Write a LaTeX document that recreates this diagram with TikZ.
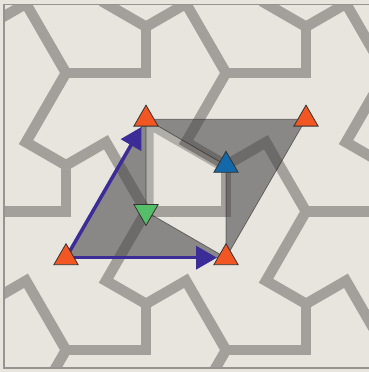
\documentclass[tikz,border=0pt]{standalone}
\usetikzlibrary{arrows.meta,shapes.geometric}
\definecolor{bg}{RGB}{232,229,223}
\definecolor{tileln}{RGB}{163,159,155}
\definecolor{framec}{RGB}{150,148,145}
\definecolor{orng}{RGB}{242,86,34}
\definecolor{blu}{RGB}{18,104,168}
\definecolor{grn}{RGB}{84,190,104}
\definecolor{arrc}{RGB}{60,44,152}
\definecolor{dartc}{RGB}{70,70,70}
\begin{document}
\begin{tikzpicture}[x=1pt,y=-1pt,
  tile/.style={draw=tileln,line width=10.5pt,miter limit=10},
  dart/.style={fill=dartc,fill opacity=0.58,draw=black,draw opacity=0.45,line width=0.7pt},
  mk/.style={regular polygon,regular polygon sides=3,minimum size=28pt,inner sep=0pt,draw=black!80,line width=0.8pt},
  arr/.style={draw=arrc,line width=3.5pt,-{Triangle[length=21pt,width=23pt]},shorten >=9pt}]
\useasboundingbox (0,0) rectangle (369,372);
\fill[bg] (0,0) rectangle (369,372);
% tiling
\begin{scope}
\clip (4,4.5) rectangle (380,368);
\foreach \n in {-3,...,3}{\foreach \m in {-2,...,2}{
  \pgfmathsetmacro{\bx}{226+160*\n+80*\m}
  \pgfmathsetmacro{\by}{165.3-138.56*\m}
  \draw[tile] (\bx,\by) -- ++(0,46.19) -- ++(-80,0);
  \draw[tile] (\bx,\by) -- ++(40,-23.09) -- ++(40,69.28);
  \draw[tile] (\bx,\by) -- ++(-40,-23.09) -- ++(40,-69.28);
}}
\end{scope}
\draw[framec,line width=1.6pt] (4,4.5) rectangle (380,368);
% lattice points
\coordinate (O) at (66,257.7);
\coordinate (Oa) at (226,257.7);
\coordinate (Ob) at (146,119.14);
\coordinate (Oab) at (306,119.14);
\coordinate (G) at (146,211.5);
\coordinate (B) at (226,165.3);
% hole shading band
\begin{scope}
\clip (Ob) -- (B) -- (Oa) -- (G) -- cycle;
\draw[black,opacity=0.24,line width=15pt,line join=miter] (G) -- (Ob) -- (B);
\end{scope}
% darts
\path[dart] (O) -- (Ob) -- (G) -- (Oa) -- cycle;
\path[dart] (Ob) -- (Oab) -- (Oa) -- (B) -- cycle;
% arrows
\draw[arr] (O) -- (Ob);
\draw[arr] (O) -- (Oa);
% markers
\node[mk,fill=orng] (m1) at (O) {};
\node[mk,fill=orng] (m2) at (Oa) {};
\node[mk,fill=orng] (m3) at (Ob) {};
\node[mk,fill=orng] (m4) at (Oab) {};
\node[mk,fill=blu] (m5) at (B) {};
\node[mk,fill=grn,shape border rotate=180] (m6) at (G) {};
\end{tikzpicture}
\end{document}
